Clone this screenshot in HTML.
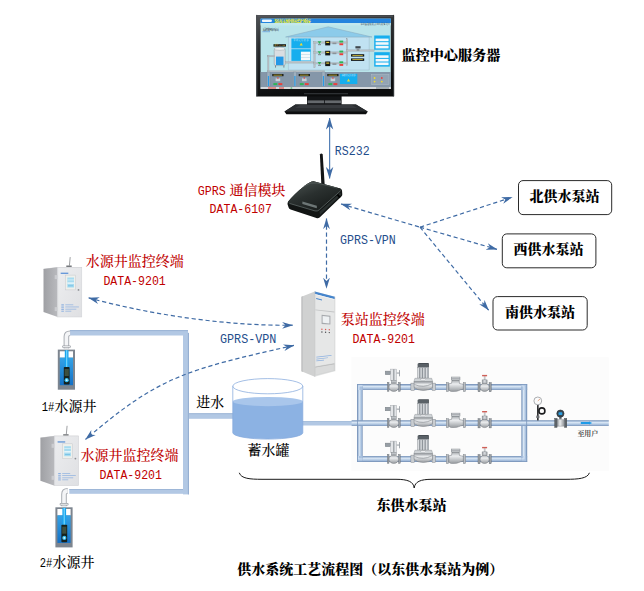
<!DOCTYPE html>
<html lang="zh-CN">
<head>
<meta charset="utf-8">
<title>供水系统工艺流程图</title>
<style>
html,body{margin:0;padding:0;background:#fff;}
body{width:644px;height:591px;overflow:hidden;position:relative;}
svg{position:absolute;left:0;top:0;display:block;}
text{font-family:"Liberation Serif","Noto Serif CJK SC",serif;font-size:14px;font-weight:500;}
.bd{font-weight:900;fill:#000;}
.red{fill:#c00000;}
.blu{fill:#1f4e8c;}
.blk{fill:#000;}
.la{font-size:13.5px;font-family:"Liberation Mono",monospace;font-weight:400;}
.dash{fill:none;stroke:#3f6ba5;stroke-width:1.2;stroke-dasharray:4.2 2.8;}
</style>
</head>
<body>
<svg width="644" height="591" viewBox="0 0 644 591">
<defs>
  <linearGradient id="pipeH" x1="0" y1="0" x2="0" y2="1">
    <stop offset="0" stop-color="#7a93b6"/><stop offset="0.13" stop-color="#90abcd"/><stop offset="0.38" stop-color="#d9e6f4"/><stop offset="0.56" stop-color="#c2d5ea"/><stop offset="0.82" stop-color="#9db7d8"/><stop offset="1" stop-color="#7a93b6"/>
  </linearGradient>
  <linearGradient id="pipeV" x1="0" y1="0" x2="1" y2="0">
    <stop offset="0" stop-color="#7a93b6"/><stop offset="0.13" stop-color="#90abcd"/><stop offset="0.38" stop-color="#d9e6f4"/><stop offset="0.56" stop-color="#c2d5ea"/><stop offset="0.82" stop-color="#9db7d8"/><stop offset="1" stop-color="#7a93b6"/>
  </linearGradient>
  <linearGradient id="metalV" x1="0" y1="0" x2="0" y2="1">
    <stop offset="0" stop-color="#a3a7ab"/><stop offset="0.35" stop-color="#eceef0"/><stop offset="1" stop-color="#989ca0"/>
  </linearGradient>
  <linearGradient id="metalH" x1="0" y1="0" x2="1" y2="0">
    <stop offset="0" stop-color="#8c9094"/><stop offset="0.4" stop-color="#eceef0"/><stop offset="1" stop-color="#8a8e92"/>
  </linearGradient>
  <linearGradient id="waterG" x1="0" y1="0" x2="0" y2="1">
    <stop offset="0" stop-color="#35a3e6"/><stop offset="1" stop-color="#1370c6"/>
  </linearGradient>
  <linearGradient id="bezelG" x1="0" y1="0" x2="0.25" y2="1">
    <stop offset="0" stop-color="#505356"/><stop offset="0.35" stop-color="#2c2e30"/><stop offset="1" stop-color="#0b0c0d"/>
  </linearGradient>
  <linearGradient id="routerTop" x1="0.1" y1="0" x2="0.8" y2="1">
    <stop offset="0" stop-color="#4a5250"/><stop offset="0.45" stop-color="#2a302f"/><stop offset="1" stop-color="#151918"/>
  </linearGradient>
  <linearGradient id="cabFront" x1="0" y1="0" x2="1" y2="1">
    <stop offset="0" stop-color="#ecedef"/><stop offset="1" stop-color="#dfe0e3"/>
  </linearGradient>
  <linearGradient id="cabSide" x1="0" y1="0" x2="1" y2="0">
    <stop offset="0" stop-color="#9fa0a4"/><stop offset="1" stop-color="#b9babe"/>
  </linearGradient>
  <marker id="ah" viewBox="0 0 12 8" refX="11.5" refY="4" markerWidth="12" markerHeight="8" orient="auto-start-reverse" markerUnits="userSpaceOnUse">
    <path d="M0,0.3 L12,4 L0,7.7 L3.6,4 Z" fill="#3f6ba5"/>
  </marker>
  <marker id="ahs" viewBox="0 0 12 8" refX="11.5" refY="4" markerWidth="11" markerHeight="7.4" orient="auto-start-reverse" markerUnits="userSpaceOnUse">
    <path d="M0,0.3 L12,4 L0,7.7 L3.6,4 Z" fill="#3f6ba5"/>
  </marker>

  <!-- small wall cabinet: origin = front face top-left -->
  <g id="cab">
    <line x1="12.5" y1="-10.2" x2="11.7" y2="-1.6" stroke="#5d6064" stroke-width="0.6"/>
    <rect x="8.6" y="-1.8" width="5.4" height="1.6" fill="#75787c"/>
    <polygon points="-14.2,1.4 0,-0.2 24.1,-0.2 24.1,0.6 0,0.6 -14.2,2.2" fill="#d4d5d8"/>
    <polygon points="-14.2,1.7 0,0 0,49.7 -14.2,44.7" fill="url(#cabSide)"/>
    <rect x="0" y="0" width="24.1" height="49.7" fill="url(#cabFront)"/>
    <rect x="0" y="0" width="24.1" height="49.7" fill="none" stroke="#cfd0d4" stroke-width="0.5"/>
    <line x1="0" y1="0" x2="0" y2="49.7" stroke="#d9dadd" stroke-width="0.7"/>
    <rect x="-3" y="7.8" width="2.6" height="4" fill="#cbccd0"/>
    <rect x="-3" y="39.8" width="2.6" height="4" fill="#cbccd0"/>
    <rect x="3" y="5.4" width="7.6" height="1.1" fill="#4a86d4"/>
    <rect x="7.7" y="7.8" width="10.2" height="14.8" fill="#eef0ec" stroke="#c6c8cc" stroke-width="0.5"/>
    <rect x="9.6" y="10.2" width="6.7" height="10" fill="#a6dbf0"/>
    <rect x="9.6" y="12.2" width="6.7" height="0.8" fill="#d9f0f8"/>
    <rect x="9.6" y="15" width="6.7" height="1.6" fill="#e3f4fa"/>
    <rect x="10.3" y="18" width="5.2" height="1" fill="#7cc4e6"/>
    <circle cx="20.8" cy="22.6" r="0.9" fill="#8d8f93"/>
    <g fill="#7ea8e0" opacity="0.85">
      <rect x="3.6" y="37" width="2.6" height="1.2"/><rect x="3.6" y="39.2" width="2.6" height="1.2"/><rect x="3.6" y="41.4" width="2.6" height="1.2"/><rect x="3.6" y="43.4" width="2.6" height="1"/>
      <rect x="7.6" y="37.2" width="8" height="0.7"/>
      <rect x="7.6" y="39.3" width="13.6" height="0.7"/>
      <rect x="7.6" y="41.5" width="11" height="0.7"/>
      <rect x="7.6" y="43.5" width="6" height="0.7"/>
    </g>
  </g>

  <!-- well: origin = outer top-left (17.2 x 40.1) -->
  <g id="well">
    <!-- elbow pipe -->
    <path d="M8.6,-1 L8.6,-13 Q8.6,-16.4 12.3,-16.4" fill="none" stroke="#a9adb3" stroke-width="5.6"/>
    <path d="M8.6,-1 L8.6,-13 Q8.6,-16.4 12.3,-16.4" fill="none" stroke="#f4f5f7" stroke-width="3.6"/>
    <rect x="4.3" y="-4.2" width="8.8" height="2.4" rx="1" fill="#9a9ea4"/>
    <rect x="5" y="-3.6" width="7.4" height="1.2" fill="#e4e6e8"/>
    <rect x="0" y="0" width="17.2" height="40.1" fill="#7d858f"/>
    <rect x="2" y="1.7" width="13.2" height="6.4" fill="#ffffff"/>
    <rect x="2" y="8" width="13.2" height="27.6" fill="url(#waterG)"/>
    <rect x="7" y="0.6" width="3.7" height="17.6" fill="#16a4ee"/><rect x="8.2" y="0.6" width="1.3" height="17.6" fill="#6fd0fa"/>
    <rect x="6" y="17.4" width="5.8" height="17.6" rx="0.8" fill="#16211d"/>
    <rect x="6.8" y="19.4" width="4.2" height="7" fill="#3d4f3f"/>
    <circle cx="8.9" cy="30.6" r="2.1" fill="#39c0f2"/>
    <circle cx="8.9" cy="30.6" r="0.9" fill="#dff6ff"/>
  </g>

  <!-- electric valve: origin = pipe centre at valve centre -->
  <g id="evalve">
    <rect x="-3" y="-17.8" width="5.8" height="11.4" fill="#e3e5e8" stroke="#9a9fa4" stroke-width="0.4"/><rect x="-0.4" y="-17.6" width="0.9" height="11" fill="#7b8187"/>
    
    <rect x="-8.6" y="-15.8" width="5" height="3.6" fill="#979ea5" stroke="#72787e" stroke-width="0.4"/>
    <rect x="2.8" y="-14.4" width="3" height="1.1" fill="#9da3a9"/>
    <rect x="5.2" y="-16.8" width="0.9" height="6.2" fill="#9aa0a6"/>
    <rect x="-2.6" y="-6.6" width="5.2" height="2.6" fill="#bfc3c7" stroke="#7e8388" stroke-width="0.4"/>
    <rect x="-6.4" y="-4.4" width="1.6" height="8.8" fill="#9a9fa4" stroke="#5f656b" stroke-width="0.4"/>
    <rect x="4.8" y="-4.4" width="1.6" height="8.8" fill="#9a9fa4" stroke="#5f656b" stroke-width="0.4"/>
    <ellipse cx="0" cy="0.3" rx="4.8" ry="4.2" fill="url(#metalV)" stroke="#74797f" stroke-width="0.5"/>
  </g>

  <!-- pump -->
  <g id="pump">
    <rect x="-5.7" y="-23" width="10.6" height="3.8" fill="#5a6167"/>
    <polygon points="-5.7,-23 -4.4,-23.8 5.4,-23.8 4.9,-23" fill="#474d53"/>
    <rect x="4.9" y="-23.5" width="0.8" height="4.2" fill="#3f454a"/>
    <rect x="-6" y="-19.4" width="11.4" height="10.6" fill="#d9dcdf" stroke="#878c91" stroke-width="0.4"/>
    <rect x="-4.2" y="-19.4" width="1.3" height="10.6" fill="#8f959b"/>
    <rect x="-1.5" y="-19.4" width="1.3" height="10.6" fill="#8f959b"/>
    <rect x="1.2" y="-19.4" width="1.3" height="10.6" fill="#8f959b"/>
    <rect x="3.9" y="-19.4" width="1.5" height="10.6" fill="#a4aab0"/>
    <path d="M-8.4,-8.6 L8.4,-8.6 L9.4,-5.2 L-9.4,-5.2 Z" fill="#cfd3d6" stroke="#7e8388" stroke-width="0.4"/>
    <rect x="-2.4" y="-8" width="4.8" height="1.6" fill="#f1f2f4" stroke="#8a8f94" stroke-width="0.3"/>
    <rect x="-12.4" y="-3.8" width="3.6" height="7.4" fill="#c9cdd1" stroke="#74797f" stroke-width="0.4"/>
    <rect x="8.8" y="-3.8" width="3.4" height="7.4" fill="#c9cdd1" stroke="#74797f" stroke-width="0.4"/>
    <path d="M-9.2,-5.2 L9.2,-5.2 L9.2,0.6 Q6,3.5 0,3.5 Q-6,3.5 -9.2,0.6 Z" fill="url(#metalV)" stroke="#74797f" stroke-width="0.5"/>
    <path d="M-8.8,-2.4 Q0,1.6 8.8,-3.2" fill="none" stroke="#83888d" stroke-width="0.6"/>
  </g>

  <!-- check valve -->
  <g id="cvalve">
    <rect x="-9.6" y="-4.3" width="2.5" height="9" fill="#b9bdc2" stroke="#6f757b" stroke-width="0.4"/>
    <rect x="7.4" y="-4.3" width="2.3" height="9" fill="#b9bdc2" stroke="#6f757b" stroke-width="0.4"/>
    <path d="M-7,-3.2 L-4.4,-3.6 L-3.8,-6.9 L3.2,-6.9 L3.6,-3.4 Q5.6,-2.9 7.4,-2.7 L7.4,2.4 Q4.6,2.6 3,3.6 Q1.4,4.5 -1.6,4.5 L-4.6,4.5 Q-6.6,4.2 -7,3 Z" fill="url(#metalV)" stroke="#74797f" stroke-width="0.5"/>
    <rect x="-4.7" y="-9.9" width="8.8" height="3" fill="#cfd2d5" stroke="#74797f" stroke-width="0.4"/>
    <rect x="-4.7" y="-8.7" width="8.8" height="0.5" fill="#8a8f94"/>
  </g>

  <!-- manual valve -->
  <g id="mvalve">
    <rect x="-0.9" y="-10.8" width="1.8" height="4" fill="#c5c8cb"/>
    <rect x="-2.6" y="-12" width="5" height="1.4" fill="#cf6058"/>
    <rect x="-2.6" y="-7" width="5" height="3.8" fill="#a9adb2" stroke="#6f757b" stroke-width="0.4"/>
    <rect x="-1.2" y="-6.8" width="2.2" height="3.4" fill="#d5d8db"/>
    <rect x="-6.7" y="-4.3" width="2.1" height="9.2" fill="#9a9fa4" stroke="#5f656b" stroke-width="0.4"/>
    <rect x="4.4" y="-4.3" width="2.1" height="9.2" fill="#9a9fa4" stroke="#5f656b" stroke-width="0.4"/>
    <ellipse cx="-0.1" cy="0.4" rx="4.5" ry="4.2" fill="url(#metalV)" stroke="#74797f" stroke-width="0.5"/>
  </g>
</defs>

<!-- ===== PIPES ===== -->
<g id="pipes">
  <rect x="351.4" y="357.1" width="257.4" height="113.9" fill="#fcfcfc"/>
  <!-- left network (flat) -->
  <rect x="70" y="330.1" width="118" height="5.4" fill="#b2c8e4"/>
  <rect x="70" y="330.1" width="118" height="1" fill="#9bb4d5"/>
  <rect x="69.3" y="489" width="114" height="4.8" fill="#b2c8e4"/>
  <rect x="69.3" y="489" width="114" height="0.9" fill="#9bb4d5"/>
  <rect x="183" y="332.9" width="5.9" height="161.5" fill="#b2c8e4"/>
  <rect x="187.9" y="332.9" width="1" height="161.5" fill="#93acd0"/>
  <rect x="188.9" y="413.3" width="44.4" height="5.5" fill="#b2c8e4"/>
  <rect x="188.9" y="413.3" width="44.4" height="0.9" fill="#9bb4d5"/>
  <!-- tank -> station (flat) -->
  <rect x="302" y="421.1" width="50" height="4.4" fill="#b2c8e4"/><rect x="302" y="421.1" width="50" height="0.8" fill="#a3bbda"/>
  <!-- station rows (glossy) -->
  <rect x="357.1" y="384.2" width="170" height="5.8" fill="url(#pipeH)"/>
  <rect x="357.1" y="456" width="170" height="5.9" fill="url(#pipeH)"/>
  <rect x="357.1" y="384.2" width="5.6" height="77.7" fill="url(#pipeV)"/>
  <rect x="521.3" y="384.2" width="5.8" height="77.7" fill="url(#pipeV)"/>
  <rect x="351.6" y="420.2" width="257.2" height="5.8" fill="url(#pipeH)"/>
  <!-- corner blends -->
  <path d="M357.1,390 L357.1,384.2 L362.7,384.2 L362.7,390 Z" fill="#a9c1df"/>
  <path d="M358.2,390 L358.2,385.3 L362.7,385.3 L362.7,386.4 L359.6,386.6 L359.4,390 Z" fill="#cfdff2"/>
  <path d="M357.1,456 L357.1,461.9 L362.7,461.9 L362.7,456 Z" fill="#a9c1df"/>
  <path d="M358.6,456 L358.8,458.2 L362.7,458.4 L362.7,459.4 L358,459.4 L358,456 Z" fill="#cfdff2"/>
  <path d="M521.3,384.2 L527.1,384.2 L527.1,390 L521.3,390 Z" fill="#a9c1df"/>
  <path d="M521.3,385.4 L524.6,385.6 L524.8,390 L523.4,390 L523.2,386.6 L521.3,386.6 Z" fill="#cfdff2"/>
  <path d="M521.3,456 L527.1,456 L527.1,461.9 L521.3,461.9 Z" fill="#a9c1df"/>
  <path d="M521.3,458.2 L523.2,458.2 L523.4,456 L524.8,456 L524.6,459.4 L521.3,459.4 Z" fill="#cfdff2"/>
  <rect x="357.1" y="384.2" width="170" height="0.8" fill="#7b97bd"/>
  <rect x="357.1" y="461.1" width="170" height="0.8" fill="#7b97bd"/>
  <rect x="357.1" y="384.2" width="0.8" height="77.7" fill="#7b97bd"/>
  <rect x="526.3" y="384.2" width="0.8" height="77.7" fill="#7b97bd"/>
</g>

<!-- ===== MONITOR ===== -->
<g id="monitor">
  <!-- stand -->
  <polygon points="295.4,104.4 356,104.4 367.8,111.6 366,114.3 286.4,114.3 284.4,111.6" fill="#0d0e0f"/>
  <polygon points="295.4,104.4 356,104.4 367.4,111.4 284.8,111.4" fill="#2b2e31"/>
  <polygon points="300,105 352,105 357,108 295,108" fill="#383b3f"/>
  <rect x="307" y="96" width="34.6" height="8.8" fill="#131517"/>
  <rect x="307.6" y="100.4" width="16.4" height="2.8" fill="#65696d"/>
  <rect x="324.8" y="100.4" width="16.2" height="2.8" fill="#65696d"/>
  <!-- bezel -->
  <rect x="256.1" y="14.9" width="138" height="81.6" rx="1.2" fill="url(#bezelG)"/>
  <rect x="257" y="15.6" width="136.2" height="1" fill="#55595d"/>
  <rect x="256.1" y="14.9" width="1.2" height="81.6" fill="#4a4e52"/>
  <rect x="392.9" y="14.9" width="1.2" height="81.6" fill="#2f3235"/>
  <rect x="304" y="93.3" width="44" height="0.9" fill="#4a4e52" opacity="0.8"/>
  <!-- screen -->
  <rect x="260.6" y="18.6" width="130.2" height="70.4" fill="#b9e4ea"/>
  <rect x="260.6" y="18.6" width="130.2" height="4.4" fill="#2484de"/>
  <rect x="261.9" y="19.5" width="10" height="2.6" rx="1" fill="#eef5fc"/>
  <text x="274" y="22.5" style="font-size:4.4px;font-weight:900;fill:#f6ee2e" textLength="36.8">泵站自动化供水监控系统</text>
  <rect x="260.6" y="23" width="130.2" height="2.4" fill="#c3e8ee"/>
  <text x="360.5" y="25.2" style="font-size:2.2px;fill:#33454f" textLength="29.5">系统图 参数 报表 曲线 报警 退出</text>
  <text x="262.4" y="30.6" style="font-size:3.9px;font-weight:500;fill:#34444f" textLength="16.6">系统图画面</text>
  <rect x="262.4" y="31.6" width="7.6" height="0.5" fill="#3a79d8"/>
  <!-- house -->
  <polygon points="288.4,36.8 369.2,36.8 369.2,70 288.4,70" fill="#c0e2f2" stroke="#9db9c8" stroke-width="0.5"/>
  <polygon points="285.6,37 328.2,26.8 372,37" fill="#8ccbea" stroke="#86a9bd" stroke-width="0.5"/>
  <!-- blue panels -->
  <rect x="291.4" y="38.5" width="19.4" height="9.9" fill="#16aeee"/>
  <text x="293.4" y="41" style="font-size:2px;fill:#e7f6ff" textLength="15">泵站运行状态</text>
  <polygon points="299.6,45.6 301.2,42.8 302.8,45.6" fill="#f3dc2c"/>
  <rect x="291.4" y="49.2" width="19.4" height="11.7" fill="#16aeee"/>
  <rect x="300.9" y="51.7" width="9.4" height="8.7" fill="#f6fafc"/>
  <rect x="300.9" y="54.4" width="9.4" height="0.4" fill="#9cc4d8"/>
  <rect x="300.9" y="57.3" width="9.4" height="0.4" fill="#9cc4d8"/>
  <!-- tank -->
  <rect x="273.5" y="44.2" width="12.5" height="2.4" fill="#15181a"/>
  <text x="274.3" y="46.1" style="font-size:1.9px;fill:#f0d63a" textLength="10.8">液位 2.35m</text>
  <rect x="274.2" y="48.6" width="11" height="17" rx="1.6" fill="#d9dee2" stroke="#8b949b" stroke-width="0.5"/>
  <ellipse cx="279.7" cy="48.8" rx="5.4" ry="1.5" fill="#eef1f3" stroke="#8b949b" stroke-width="0.4"/>
  <rect x="276" y="56.6" width="7.5" height="8.5" fill="#2499e6"/>
  <rect x="275" y="65.4" width="1" height="2.2" fill="#7d868d"/><rect x="283.4" y="65.4" width="1" height="2.2" fill="#7d868d"/>
  <!-- grey pipes -->
  <g fill="#b9c0c5" stroke="#8f989e" stroke-width="0.25">
    <rect x="267.5" y="55.4" width="1.5" height="17"/>
    <rect x="267.5" y="55.4" width="7" height="1.5"/>
    <rect x="285.6" y="61.6" width="29" height="1.5"/>
    <rect x="313.8" y="41.8" width="1.5" height="26"/>
    <rect x="313.8" y="41.8" width="33.8" height="1.4"/>
    <rect x="313.8" y="51.8" width="33.8" height="1.4"/>
    <rect x="313.8" y="62.6" width="33.8" height="1.4"/>
    <rect x="346.2" y="38.8" width="1.5" height="27"/>
    <rect x="346.2" y="49.8" width="28" height="1.5"/>
    <rect x="267.5" y="70.6" width="57" height="1.4"/>
  </g>
  <!-- three pump rows in screen -->
  <g id="scrRow">
    <polygon points="317.6,41.2 321.4,41.2 319.5,44" fill="#2fb457"/>
    <rect x="318" y="44" width="3" height="1.2" fill="#8b949b"/>
    <rect x="325.2" y="40.8" width="5" height="4.6" fill="#15181a"/>
    <rect x="326.2" y="41.8" width="3" height="1.2" fill="#e3c93a"/>
    <rect x="332.4" y="42.6" width="4" height="1.6" fill="#8b949b"/>
    <rect x="339.4" y="40.6" width="3.8" height="1.9" fill="#2fb457"/>
    <rect x="339.4" y="43.3" width="3.8" height="1.9" fill="#e8413c"/>
  </g>
  <use href="#scrRow" y="10"/>
  <use href="#scrRow" y="20.7"/>
  <!-- flowmeter + readouts -->
  <rect x="355.4" y="46.2" width="5.2" height="2.2" fill="#40484e"/>
  <rect x="356.6" y="48.4" width="2.8" height="2.4" fill="#8b949b"/>
  <rect x="351" y="54.2" width="13.2" height="2.4" fill="#15181a"/>
  <rect x="352.4" y="55" width="10.4" height="0.8" fill="#d9c23a"/>
  <rect x="351" y="58.4" width="13.2" height="2.5" fill="#15181a"/>
  <rect x="352.4" y="59.2" width="10.4" height="0.8" fill="#d9c23a"/>
  <!-- right panels -->
  <rect x="374.2" y="35.5" width="15.6" height="14.2" fill="#16aeee"/>
  <rect x="375.6" y="38.6" width="13" height="2.6" fill="#f2f8fb"/>
  <rect x="375.6" y="42.2" width="13" height="2.6" fill="#f2f8fb"/>
  <rect x="375.6" y="45.8" width="13" height="2.6" fill="#f2f8fb"/>
  <rect x="374.2" y="52.2" width="15.6" height="14.4" fill="#16aeee"/>
  <rect x="375.6" y="55.3" width="13" height="2.6" fill="#f2f8fb"/>
  <rect x="375.6" y="58.9" width="13" height="2.6" fill="#f2f8fb"/>
  <rect x="375.6" y="62.5" width="13" height="2.6" fill="#f2f8fb"/>
  <!-- bottom grey band -->
  <rect x="260.6" y="72" width="130.2" height="15" fill="#8597a9"/>
  <g id="scrWell">
    <rect x="267" y="72" width="3" height="14.4" fill="#9fb0bf" stroke="#6f8090" stroke-width="0.3"/>
    <rect x="267.9" y="76" width="1.2" height="10" fill="#2a9be6"/>
    <rect x="272.3" y="74" width="11.2" height="2.2" fill="#15181a"/>
    <rect x="273.4" y="74.7" width="8.8" height="0.8" fill="#d9c23a"/>
    <rect x="275.6" y="78.4" width="4.6" height="2.8" fill="#c9d1d8"/>
    <rect x="277.2" y="77.4" width="1.4" height="1.2" fill="#e8413c"/>
    <rect x="273.4" y="83.1" width="3.9" height="2" fill="#2fb457"/>
    <rect x="278.4" y="83.1" width="3.9" height="2" fill="#e8413c"/>
  </g>
  <use href="#scrWell" x="26.4"/>
  <use href="#scrWell" x="55"/>
  <rect x="339.9" y="73.8" width="17.4" height="10.2" fill="#16aeee"/>
  <text x="341.6" y="76.4" style="font-size:2px;fill:#e7f6ff" textLength="14">水源井运行状态</text>
  <polygon points="346.9,81.6 348.5,78.8 350.1,81.6" fill="#f3dc2c"/>
  <rect x="371.7" y="74.5" width="17.3" height="10" fill="#93a4b4" stroke="#b9c5cf" stroke-width="0.4"/>
  <circle cx="374.6" cy="78" r="0.9" fill="#f3dc2c"/><circle cx="374.6" cy="81.6" r="0.9" fill="#f3dc2c"/>
  <circle cx="381.8" cy="78" r="0.9" fill="#e8413c"/><circle cx="381.8" cy="81.6" r="0.9" fill="#f3dc2c"/>
  <!-- status bar -->
  <rect x="260.6" y="87" width="130.2" height="2" fill="#d6dadd"/>
  <rect x="268" y="87.5" width="8" height="1" fill="#e8413c"/>
  <rect x="279" y="87.5" width="5" height="1" fill="#e8413c"/>
  <rect x="290.6" y="87.5" width="1.6" height="1" fill="#2fb457"/>
  <rect x="376" y="87.5" width="13" height="1" fill="#7b8790"/>
</g>

<!-- ===== ROUTER ===== -->
<g id="router">
  <path d="M319.9,154.4 Q321.3,152.6 322.7,154.4 L324.8,186 L321.4,186 Z" fill="#131516"/>
  <path d="M313.6,181.2 Q310,181.4 305,185.4 Q294,194 288.2,201.6 Q287.2,203 287.6,204.6 L288.6,207.6 Q289,209 290.6,209.6 L316.4,218 Q318.2,218.6 319.6,217.4 L341.4,196.6 Q342.4,195.6 342.3,194.2 L342,190.4 Q341.8,188.8 340.2,188.4 Z" fill="#121514"/>
  <path d="M313.6,181.2 Q310,181.4 305,185.4 Q294,194 288.2,201.6 Q287.6,202.6 289,203.2 L315,210.8 Q317.4,211.4 319.2,209.8 L340.6,190.6 Q341.8,189.2 340.2,188.4 Z" fill="url(#routerTop)"/>
  <path d="M304,186.2 Q311,181.6 317,183 L337,188" fill="none" stroke="#6a7472" stroke-width="0.9" opacity="0.55"/>
  <path d="M289.4,203.4 L315,210.9 Q317.4,211.5 319.2,209.9 L340.8,190.6" fill="none" stroke="#5c6664" stroke-width="0.9" opacity="0.9"/>
  <path d="M319.6,211.4 L340.6,192.4 L341,195 L320,215" fill="#2b3231" opacity="0.9"/>
  <polygon points="302.4,201.6 316.8,205.8 316.8,208.2 302.4,204" fill="#75807f" opacity="0.9"/>
  <rect x="337.8" y="194.2" width="2" height="3.8" fill="#030404" transform="rotate(-42 338.8 196.1)"/>
</g>

<!-- ===== CABINETS ===== -->
<use href="#cab" x="57.7" y="267.3"/>
<use href="#cab" x="54.6" y="436"/>
<g id="bigcab">
  <polygon points="301.4,296.8 314.8,291.5 314.8,376.8 301.4,371.2" fill="#d0d1d1"/>
  <polygon points="301.4,296.8 303,296.2 303,371.9 301.4,371.2" fill="#c3c4c5"/>
  <polygon points="314.8,291.5 334.9,296.8 334.9,371.2 314.8,376.8" fill="#e6e7e7"/>
  <polygon points="314.8,291.5 334.9,296.8 334.9,299.3 314.8,294.1" fill="#4685cc"/>
  <polygon points="314.8,294.1 334.9,299.3 334.9,300 314.8,294.8" fill="#f4f5f5"/>
  <line x1="314.8" y1="291.5" x2="314.8" y2="376.8" stroke="#bfc0c1" stroke-width="0.7"/>
  <line x1="334.9" y1="296.8" x2="334.9" y2="371.2" stroke="#c9caca" stroke-width="0.6"/>
  <polygon points="315.4,309.4 334.4,311.6 334.4,312.5 315.4,310.3" fill="#c3c4c5"/>
  <polygon points="316.2,298 322,299.5 322,300.6 316.2,299.1" fill="#4685cc"/>
  <polygon points="321.6,314.8 330.4,315.8 330.4,324.6 321.6,324" fill="#a6a9ad"/>
  <polygon points="322.6,316 329.4,316.8 329.4,323.4 322.6,322.8" fill="#eef1f3"/>
  <circle cx="321.9" cy="329.2" r="0.7" fill="#dc5a55"/><circle cx="325.6" cy="329.5" r="0.7" fill="#dc5a55"/><circle cx="329.3" cy="329.8" r="0.7" fill="#dc5a55"/>
  <circle cx="321.9" cy="332" r="0.7" fill="#4a4c50"/><circle cx="325.6" cy="332.3" r="0.7" fill="#4a4c50"/><circle cx="329.3" cy="332.6" r="0.7" fill="#4a4c50"/>
  <g fill="#7ea8e0" opacity="0.85">
    <polygon points="316.3,356.8 331.5,355 331.5,355.7 316.3,357.5"/>
    <polygon points="316.3,358.7 328,357.4 328,358.1 316.3,359.4"/>
    <polygon points="316.3,360.6 324,359.8 324,360.5 316.3,361.3"/>
  </g>
  <polygon points="315.4,366.8 334.4,363.4 334.4,370.6 315.4,375.4" fill="#dadbdb" stroke="#c3c4c5" stroke-width="0.4"/>
  <polygon points="315.4,366.8 334.4,363.4 334.4,364.2 315.4,367.6" fill="#b9babb"/>
</g>

<!-- ===== WELLS ===== -->
<use href="#well" x="57.8" y="349.6"/>
<use href="#well" x="55.4" y="507.3"/>

<!-- ===== TANK ===== -->
<g id="tank">
  <path d="M232.8,401.6 L232.8,432.7 A35,6.4 0 0 0 302.8,432.7 L302.8,401.6 Z" fill="#8cb2e3"/>
  <ellipse cx="267.8" cy="401.6" rx="35" ry="4.6" fill="#a9c6eb"/>
  <path d="M232.8,386.2 L232.8,432.7 A35,6.4 0 0 0 302.8,432.7 L302.8,386.2" fill="none" stroke="#86a9dc" stroke-width="0.75"/>
  <ellipse cx="267.8" cy="386.2" rx="35" ry="7.6" fill="none" stroke="#86a9dc" stroke-width="0.75"/>
</g>

<!-- ===== PUMP STATION EQUIPMENT ===== -->
<g id="station">
  <g id="row1">
    <use href="#evalve" x="393.8" y="386.9"/>
    <use href="#pump" x="423.3" y="386.9"/>
    <use href="#cvalve" x="455.9" y="386.9"/>
    <use href="#mvalve" x="484.7" y="386.9"/>
  </g>
  <use href="#row1" y="36.1"/>
  <use href="#row1" y="72"/>
  <!-- pressure gauge -->
  <rect x="537.1" y="404.6" width="1.5" height="15.8" fill="#1b1c1e"/>
  <circle cx="541.9" cy="410.9" r="3" fill="none" stroke="#1b1c1e" stroke-width="1.6"/>
  <rect x="536.3" y="415.6" width="3.1" height="2.4" fill="#6b6e72"/>
  <circle cx="537.8" cy="400.9" r="3.9" fill="#fbfbfb" stroke="#a3a5a8" stroke-width="0.9"/>
  <line x1="537.8" y1="400.9" x2="540" y2="399" stroke="#d8713c" stroke-width="0.6"/>
  <!-- flowmeter -->
  <rect x="559.2" y="416.6" width="2.4" height="2.6" fill="#6d7277"/>
  <circle cx="560.4" cy="413.6" r="3.6" fill="#3a4852" stroke="#222c33" stroke-width="0.6"/>
  <rect x="558.5" y="412.3" width="3.8" height="2.6" rx="0.6" fill="#2c9fe2"/>
  <rect x="554.7" y="418.4" width="2.4" height="9" fill="#5d6368" stroke="#3f4448" stroke-width="0.4"/>
  <rect x="564.4" y="418.4" width="2.4" height="9" fill="#5d6368" stroke="#3f4448" stroke-width="0.4"/>
  <rect x="557.1" y="419.8" width="7.3" height="6.3" fill="url(#metalH)" stroke="#74797f" stroke-width="0.4"/>
  <!-- flow arrow -->
  <polygon points="580.8,422 589,422 589,421.4 592.2,423 589,424.6 589,424 580.8,424" fill="#1e9be8"/>
  <text x="577.4" y="435.6" style="font-size:6.9px;font-weight:700;fill:#484848">至用户</text>
  <!-- brace -->
  <path d="M239.3,472.8 C241,478.6 250,479.3 262,479.3 L396,479.3 C408,479.3 413.4,481.6 414.2,488 C415,481.6 420.4,479.3 432,479.3 L566,479.3 C578,479.3 587.6,478.6 589.4,472.8" fill="none" stroke="#1a1a1a" stroke-width="1"/>
</g>

<!-- ===== ARROWS ===== -->
<g id="arrows">
  <line x1="329.6" y1="118" x2="329.6" y2="178.4" stroke="#5580b6" stroke-width="1.25" marker-start="url(#ah)" marker-end="url(#ah)"/>
  <line class="dash" x1="326.5" y1="218.6" x2="326.5" y2="288.2" marker-start="url(#ahs)" marker-end="url(#ahs)"/>
  <line class="dash" x1="341" y1="204" x2="420" y2="227.2" marker-start="url(#ahs)"/>
  <line class="dash" x1="420" y1="227.2" x2="512.2" y2="197.2" marker-end="url(#ahs)"/>
  <line class="dash" x1="420" y1="227.2" x2="497" y2="249.3" marker-end="url(#ahs)"/>
  <line class="dash" x1="420" y1="227.2" x2="488.6" y2="310.2" marker-end="url(#ahs)"/>
  <path class="dash" d="M88.7,297.9 C152,315 228.5,326.2 292.7,325.2" marker-start="url(#ahs)" marker-end="url(#ahs)"/>
  <path class="dash" d="M294,345.4 C185.2,369.9 158.7,376.6 85.5,439.4" marker-start="url(#ahs)" marker-end="url(#ahs)"/>
</g>

<!-- ===== STATION BOXES ===== -->
<g fill="#fff" stroke="#2a2a2a" stroke-width="1">
  <rect x="518.5" y="180.6" width="93.2" height="34" rx="4.5"/>
  <rect x="502.3" y="233.9" width="93.6" height="33.9" rx="4.5"/>
  <rect x="493" y="296.6" width="94.2" height="33.4" rx="4.5"/>
</g>

<!-- ===== TEXT ===== -->
<g>
  <text class="bd" x="401.6" y="59.8" style="font-size:14.1px">监控中心服务器</text>
  <text class="blu la" x="334.8" y="155" textLength="34.8" lengthAdjust="spacingAndGlyphs">RS232</text>
  <text class="red" y="195"><tspan class="la" x="197.8" textLength="28" lengthAdjust="spacingAndGlyphs">GPRS</tspan><tspan x="226.1"> 通信模块</tspan></text>
  <text class="red la" x="209.6" y="213.4" textLength="62.4" lengthAdjust="spacingAndGlyphs">DATA-6107</text>
  <text class="blu la" x="340" y="243.7" textLength="55.8" lengthAdjust="spacingAndGlyphs">GPRS-VPN</text>
  <text class="bd" x="529.4" y="201.4">北供水泵站</text>
  <text class="bd" x="513.4" y="254.4">西供水泵站</text>
  <text class="bd" x="505" y="316.9">南供水泵站</text>
  <text class="red" x="85.8" y="266.1">水源井监控终端</text>
  <text class="red la" x="103.4" y="284.6" textLength="62.4" lengthAdjust="spacingAndGlyphs">DATA-9201</text>
  <text class="blk" y="410.8"><tspan class="la" x="41.8" textLength="12.6" lengthAdjust="spacingAndGlyphs">1#</tspan><tspan x="54.6">水源井</tspan></text>
  <text class="blk" x="196.2" y="406.7">进水</text>
  <text class="blk" x="247.4" y="455.2">蓄水罐</text>
  <text class="red" x="340.8" y="324.2">泵站监控终端</text>
  <text class="red la" x="352.6" y="343.1" textLength="62.4" lengthAdjust="spacingAndGlyphs">DATA-9201</text>
  <text class="blu la" x="220" y="343" textLength="56.4" lengthAdjust="spacingAndGlyphs">GPRS-VPN</text>
  <text class="red" x="80.6" y="460.2">水源井监控终端</text>
  <text class="red la" x="99.6" y="478.8" textLength="62.4" lengthAdjust="spacingAndGlyphs">DATA-9201</text>
  <text class="blk" y="566.8"><tspan class="la" x="39.8" textLength="12.6" lengthAdjust="spacingAndGlyphs">2#</tspan><tspan x="52.6">水源井</tspan></text>
  <text class="bd" x="376.6" y="509.8">东供水泵站</text>
  <text class="bd" x="237.2" y="574.4">供水系统工艺流程图（以东供水泵站为例）</text>
</g>

</svg>
</body>
</html>
